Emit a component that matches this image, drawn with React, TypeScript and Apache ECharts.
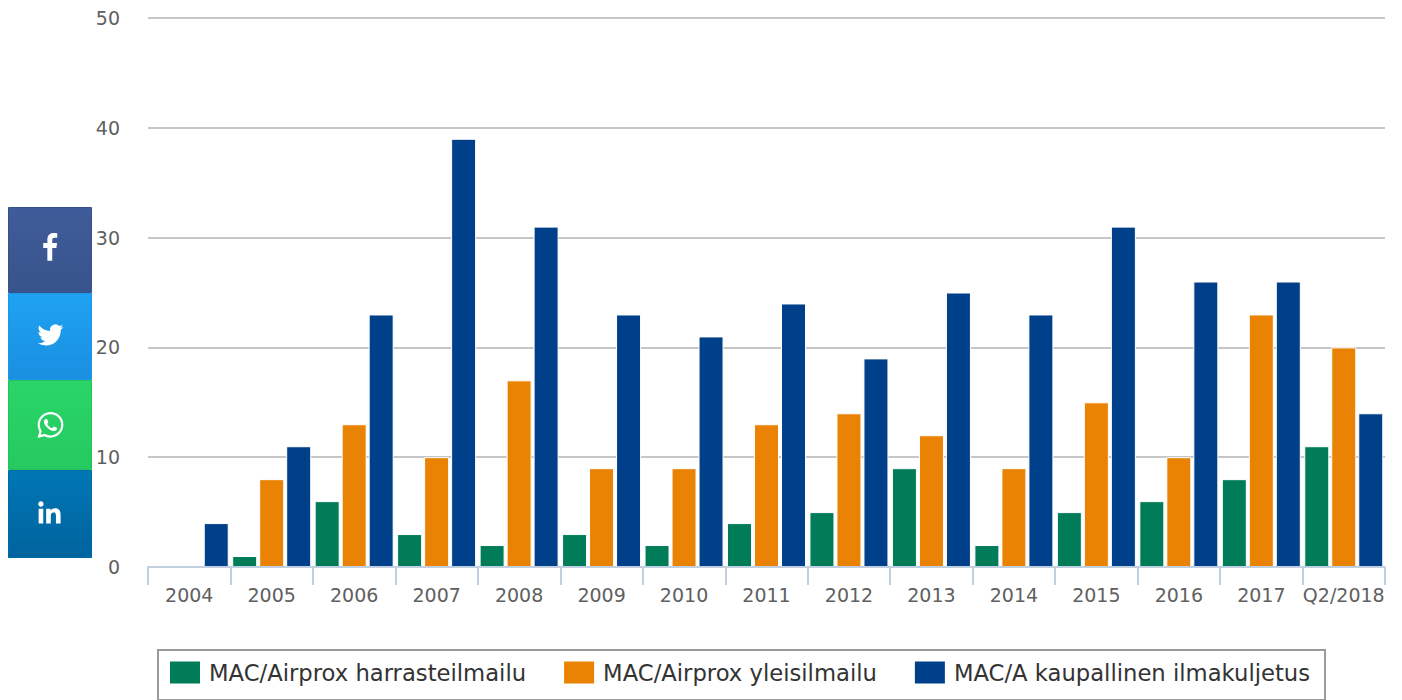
import React, { useEffect, useRef } from "react";
import * as echarts from "echarts";

const categories = ["2004","2005","2006","2007","2008","2009","2010","2011","2012","2013","2014","2015","2016","2017","Q2/2018"];
const harraste = [0,1,6,3,2,3,2,4,5,9,2,5,6,8,11];
const yleis = [0,8,13,10,17,9,9,13,14,12,9,15,10,23,20];
const kaupallinen = [4,11,23,39,31,23,21,24,19,25,23,31,26,26,14];

const FB = "M14 24v-11h3.6l.5-4.3H14V6c0-1.2.4-2 2.1-2h2.2V.2C17.9.1 16.6 0 15.1 0 12 0 9.8 2 9.8 5.5v3.2H6.2V13h3.6v11z";
const TW = "M23.953 4.57a10 10 0 0 1-2.825.775 4.958 4.958 0 0 0 2.163-2.723c-.951.555-2.005.959-3.127 1.184a4.92 4.92 0 0 0-8.384 4.482C7.69 8.095 4.067 6.13 1.64 3.162a4.822 4.822 0 0 0-.666 2.475c0 1.71.87 3.213 2.188 4.096a4.904 4.904 0 0 1-2.228-.616v.06a4.923 4.923 0 0 0 3.946 4.827 4.996 4.996 0 0 1-2.212.085 4.936 4.936 0 0 0 4.604 3.417 9.867 9.867 0 0 1-6.102 2.105c-.39 0-.779-.023-1.17-.067a13.995 13.995 0 0 0 7.557 2.209c9.053 0 13.998-7.496 13.998-13.985 0-.21 0-.42-.015-.63A9.935 9.935 0 0 0 24 4.59z";
const WA = "M17.472 14.382c-.297-.149-1.758-.867-2.03-.967-.273-.099-.471-.148-.67.15-.197.297-.767.966-.94 1.164-.173.199-.347.223-.644.075-.297-.15-1.255-.463-2.39-1.475-.883-.788-1.48-1.761-1.653-2.059-.173-.297-.018-.458.13-.606.134-.133.298-.347.446-.52.149-.174.198-.298.298-.497.099-.198.05-.371-.025-.52-.075-.149-.669-1.612-.916-2.207-.242-.579-.487-.5-.669-.51-.173-.008-.371-.01-.57-.01-.198 0-.52.074-.792.372-.272.297-1.04 1.016-1.04 2.479 0 1.462 1.065 2.875 1.213 3.074.149.198 2.096 3.2 5.077 4.487.709.306 1.262.489 1.694.625.712.227 1.36.195 1.871.118.571-.085 1.758-.719 2.006-1.413.248-.694.248-1.289.173-1.413-.074-.124-.272-.198-.57-.347m-5.421 7.403h-.004a9.87 9.87 0 0 1-5.031-1.378l-.361-.214-3.741.982.998-3.648-.235-.374a9.86 9.86 0 0 1-1.51-5.26c.001-5.45 4.436-9.884 9.888-9.884 2.64 0 5.122 1.03 6.988 2.898a9.825 9.825 0 0 1 2.893 6.994c-.003 5.45-4.437 9.884-9.885 9.884m8.413-18.297A11.815 11.815 0 0 0 12.05 0C5.495 0 .16 5.335.157 11.892c0 2.096.547 4.142 1.588 5.945L.057 24l6.305-1.654a11.882 11.882 0 0 0 5.683 1.448h.005c6.554 0 11.89-5.335 11.893-11.893a11.821 11.821 0 0 0-3.48-8.413Z";
const LI = "M20.447 20.452h-3.554v-5.569c0-1.328-.027-3.037-1.852-3.037-1.853 0-2.136 1.445-2.136 2.939v5.667H9.351V9h3.414v1.561h.046c.477-.9 1.637-1.85 3.37-1.85 3.601 0 4.267 2.37 4.267 5.455v6.286zM5.337 7.433c-1.144 0-2.063-.926-2.063-2.065 0-1.138.92-2.063 2.063-2.063 1.14 0 2.064.925 2.064 2.063 0 1.139-.925 2.065-2.064 2.065zm1.782 13.019H3.555V9h3.564v11.452z";

echarts.graphic.registerShape("fbIcon", echarts.graphic.extendPath(FB, {}) as any);
echarts.graphic.registerShape("twIcon", echarts.graphic.extendPath(TW, {}) as any);
echarts.graphic.registerShape("waIcon", echarts.graphic.extendPath(WA, {}) as any);
echarts.graphic.registerShape("liIcon", echarts.graphic.extendPath(LI, {}) as any);

const FONT = "'DejaVu Sans', sans-serif";

const grad = (a: string, b: string) =>
  new echarts.graphic.LinearGradient(0, 0, 0, 1, [
    { offset: 0, color: a },
    { offset: 1, color: b },
  ]);

const btn = (y: number, h: number, a: string, b: string, edge: string) => ({
  type: "rect",
  shape: { x: 8.5, y: y + 0.5, width: 83, height: h - 1 },
  style: { fill: grad(a, b), stroke: edge, lineWidth: 1 },
  silent: true,
  z: 10,
});
const icon = (type: string, x: number, y: number, s: number) => ({
  type,
  x,
  y,
  scaleX: s,
  scaleY: s,
  style: { fill: "#ffffff" },
  silent: true,
  z: 11,
});

export default function App() {
  const ref = useRef<HTMLDivElement>(null);
  useEffect(() => {
    const chart = echarts.init(ref.current!, undefined, { renderer: "svg" });
    const bar = (name: string, data: number[], color: string) => ({
      name,
      type: "bar",
      data,
      barWidth: 25,
      barGap: "8%",
      itemStyle: { color, borderColor: "#ffffff", borderWidth: 1 },
    });
    chart.setOption({
      animation: false,
      backgroundColor: "#ffffff",
      grid: { left: 148, right: 17, top: 18, bottom: 133 },
      legend: {
        left: 158,
        top: 650,
        padding: [11, 15, 16, 12],
        itemWidth: 30,
        itemHeight: 22,
        itemGap: 38,
        icon: "rect",
        borderColor: "#9a9a9a",
        borderWidth: 2,
        backgroundColor: "#ffffff",
        textStyle: { fontFamily: FONT, fontSize: 22.7, color: "#333333", padding: [0, 0, 0, 4] },
        itemStyle: { borderWidth: 0 },
      },
      xAxis: {
        type: "category",
        data: categories,
        z: 3,
        axisLine: { lineStyle: { color: "#c0d0e0", width: 2 } },
        axisTick: { show: true, length: 18, alignWithLabel: false, lineStyle: { color: "#c0d0e0", width: 2 } },
        axisLabel: { fontFamily: FONT, fontSize: 19, color: "#606060", margin: 18, interval: 0, hideOverlap: false },
        splitLine: { show: false },
      },
      yAxis: {
        type: "value",
        min: 0,
        max: 50,
        interval: 10,
        axisLine: { show: false },
        axisTick: { show: false },
        axisLabel: { fontFamily: FONT, fontSize: 19, color: "#606060", margin: 28, align: "right" },
        splitLine: { lineStyle: { color: "#c6c6c6", width: 2 } },
      },
      series: [
        bar("MAC/Airprox harrasteilmailu", harraste, "#007c59"),
        bar("MAC/Airprox yleisilmailu", yleis, "#ea8203"),
        bar("MAC/A kaupallinen ilmakuljetus", kaupallinen, "#003f8a"),
      ],
      graphic: [
        btn(207, 86, "#3f5c9a", "#38548c", "#36508a"),
        btn(293, 87, "#1fa2f2", "#1a8fe0", "#1b96e8"),
        btn(380, 90, "#2ad668", "#25c95f", "#24c25c"),
        btn(470, 88, "#0077b5", "#00639e", "#006aa8"),
        icon("fbIcon", 36, 233, 1.16),
        icon("twIcon", 37.5, 322, 1.08),
        icon("waIcon", 37.5, 412, 1.08),
        icon("liIcon", 34, 497, 1.3),
      ],
    });
    return () => chart.dispose();
  }, []);
  return <div ref={ref} style={{ position: "absolute", left: 0, top: 0, width: 1402, height: 700 }} />;
}
